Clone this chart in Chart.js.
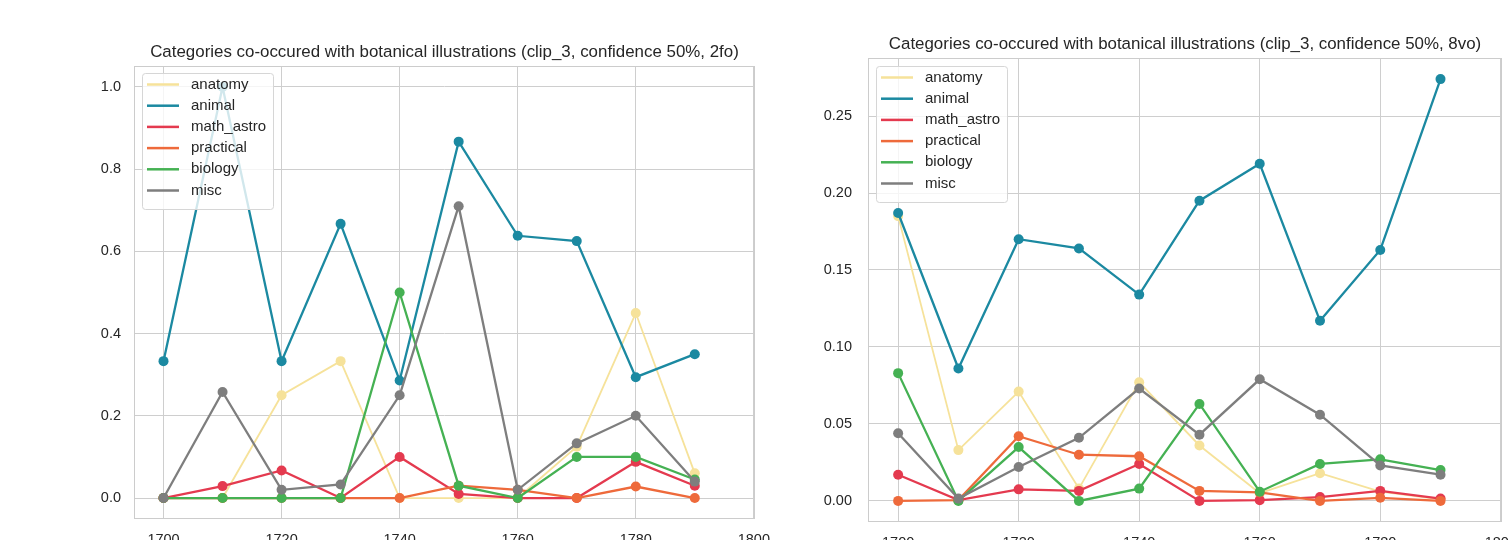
<!DOCTYPE html>
<html>
<head>
<meta charset="utf-8">
<title>Categories co-occured with botanical illustrations</title>
<script src="https://cdn.jsdelivr.net/npm/chart.js@4.4.0/dist/chart.umd.min.js"></script>
<style>
html, body { margin: 0; padding: 0; background: #fff; overflow: hidden; width: 1508px; height: 540px; }
#left { position: absolute; left: 0; top: 0; }
#right { position: absolute; left: 810px; top: 0; }
</style>
</head>
<body>
<canvas id="left" width="770" height="580"></canvas>
<canvas id="right" width="698" height="580"></canvas>
<script>
// decades on the x axis
const years = [1700, 1710, 1720, 1730, 1740, 1750, 1760, 1770, 1780, 1790]
const categories = ['anatomy', 'animal', 'math_astro', 'practical', 'biology', 'misc']
const colors = ['#f6e29a', '#1b89a1', '#e43a4f', '#ee6a3b', '#45b153', '#7e7e7e']

// 2fo
const anatomy2fo   = [0, 0, 0.25, 0.333, 0, 0, 0, 0.125, 0.45, 0.06]
const animal2fo    = [0.333, 1.0, 0.333, 0.667, 0.286, 0.867, 0.638, 0.625, 0.294, 0.35]
const mathAstro2fo = [0, 0.029, 0.067, 0, 0.1, 0.01, 0, 0, 0.088, 0.03]
const practical2fo = [0, 0, 0, 0, 0, 0.03, 0.02, 0, 0.028, 0]
const biology2fo   = [0, 0, 0, 0, 0.5, 0.03, 0, 0.1, 0.1, 0.045]
const misc2fo      = [0, 0.258, 0.02, 0.033, 0.25, 0.71, 0.02, 0.133, 0.2, 0.04]

// 8vo
const anatomy8vo   = [0.185, 0.033, 0.071, 0.008, 0.077, 0.036, 0.005, 0.018, 0.006, 0.001]
const animal8vo    = [0.187, 0.086, 0.17, 0.164, 0.134, 0.195, 0.219, 0.117, 0.163, 0.274]
const mathAstro8vo = [0.017, 0.0005, 0.0075, 0.0065, 0.024, 0, 0.0005, 0.0025, 0.0065, 0.0015]
const practical8vo = [0, 0.0005, 0.042, 0.03, 0.029, 0.0065, 0.0055, 0, 0.002, 0]
const biology8vo   = [0.083, 0, 0.035, 0, 0.008, 0.063, 0.006, 0.024, 0.027, 0.02]
const misc8vo      = [0.044, 0.0015, 0.022, 0.041, 0.073, 0.043, 0.079, 0.056, 0.023, 0.017]

const xTicks = [1700, 1720, 1740, 1760, 1780, 1800]
const yTicks2fo = [0, 0.2, 0.4, 0.6, 0.8, 1.0]
const yTicks8vo = [0, 0.05, 0.1, 0.15, 0.2, 0.25]

const FONT = '"Liberation Sans", Arial, sans-serif'
const TEXT = '#262626'
const GRID = '#cecece'

// frame, title and legend drawn matplotlib-style inside the axes
const framePlugin = {
    id: 'frame',
    beforeDraw(chart) {
        const ctx = chart.ctx
        ctx.save()
        ctx.fillStyle = '#fff'
        ctx.fillRect(0, 0, chart.width, chart.height)
        ctx.restore()
    },
    afterDraw(chart, args, opts) {
        const ctx = chart.ctx
        const a = chart.chartArea
        ctx.save()
        ctx.strokeStyle = '#cccccc'
        ctx.lineWidth = 1
        ctx.strokeRect(Math.round(a.left) + 0.5, Math.round(a.top) + 0.5, Math.round(a.width) - 1, Math.round(a.height) - 1)

        ctx.fillStyle = TEXT
        ctx.font = '16.9px ' + FONT
        ctx.textAlign = 'center'
        ctx.textBaseline = 'alphabetic'
        ctx.fillText(opts.title, (a.left + a.right) / 2, a.top - 9)

        // legend box
        const bx = a.left + 8, by = a.top + opts.legendTop
        const bw = 131, bh = 136
        ctx.beginPath()
        ctx.roundRect(bx + 0.5, by + 0.5, bw, bh, 3)
        ctx.fillStyle = 'rgba(255,255,255,0.8)'
        ctx.fill()
        ctx.strokeStyle = '#d6d6d6'
        ctx.stroke()

        ctx.font = '15px ' + FONT
        ctx.textAlign = 'left'
        ctx.textBaseline = 'middle'
        categories.forEach((name, i) => {
            const y = by + 11.5 + i * 21.2
            ctx.strokeStyle = colors[i]
            ctx.lineWidth = 2.5
            ctx.beginPath()
            ctx.moveTo(bx + 5, y)
            ctx.lineTo(bx + 37, y)
            ctx.stroke()
            ctx.fillStyle = TEXT
            ctx.fillText(name, bx + 49, y)
        })
        ctx.restore()
    }
}

function makeDatasets(series) {
    return series.map((values, i) => ({
        label: categories[i],
        data: years.map((x, j) => ({ x: x, y: values[j] })),
        borderColor: colors[i],
        backgroundColor: colors[i],
        pointBackgroundColor: colors[i],
        pointBorderWidth: 0,
        pointRadius: 5,
        borderWidth: i === 0 ? 1.8 : 2.3,
        tension: 0,
        // matplotlib draws later series on top
        order: series.length - i
    }))
}

function renderChart(canvasId, series, yTicks, yMin, yMax, digits, title, box) {
    const ctx = document.getElementById(canvasId).getContext('2d')
    new Chart(ctx, {
        type: 'line',
        data: { datasets: makeDatasets(series) },
        plugins: [framePlugin],
        options: {
            responsive: false,
            animation: false,
            events: [],
            layout: { padding: { left: 0, top: box.top, right: box.right, bottom: box.bottom } },
            plugins: {
                legend: { display: false },
                tooltip: { enabled: false },
                frame: { title: title, legendTop: box.legendTop }
            },
            scales: {
                x: {
                    type: 'linear',
                    min: 1695,
                    max: 1800.2,
                    afterBuildTicks: s => { s.ticks = xTicks.map(v => ({ value: v })) },
                    afterFit: s => { s.height = 30; s.paddingLeft = 0; s.paddingRight = 0 },
                    grid: { color: GRID, drawTicks: false },
                    border: { display: false },
                    ticks: { padding: box.xPad, color: TEXT, font: { family: FONT, size: 14.5 }, callback: v => String(v) }
                },
                y: {
                    min: yMin,
                    max: yMax,
                    afterBuildTicks: s => { s.ticks = yTicks.map(v => ({ value: v })) },
                    afterFit: s => { s.width = box.left; s.paddingTop = 0; s.paddingBottom = 0 },
                    grid: { color: GRID, drawTicks: false },
                    border: { display: false },
                    ticks: { padding: box.yPad, color: TEXT, font: { family: FONT, size: 14.5 }, callback: v => v.toFixed(digits) }
                }
            }
        }
    })
}

renderChart('left',
    [anatomy2fo, animal2fo, mathAstro2fo, practical2fo, biology2fo, misc2fo],
    yTicks2fo, -0.051, 1.051, 1,
    'Categories co-occured with botanical illustrations (clip_3, confidence 50%, 2fo)',
    { left: 134, top: 66, right: 15, bottom: 31, xPad: 12, yPad: 13, legendTop: 7 })

renderChart('right',
    [anatomy8vo, animal8vo, mathAstro8vo, practical8vo, biology8vo, misc8vo],
    yTicks8vo, -0.0137, 0.2877, 2,
    'Categories co-occured with botanical illustrations (clip_3, confidence 50%, 8vo)',
    { left: 58, top: 58, right: 6, bottom: 28, xPad: 12, yPad: 16, legendTop: 8 })
</script>
</body>
</html>
